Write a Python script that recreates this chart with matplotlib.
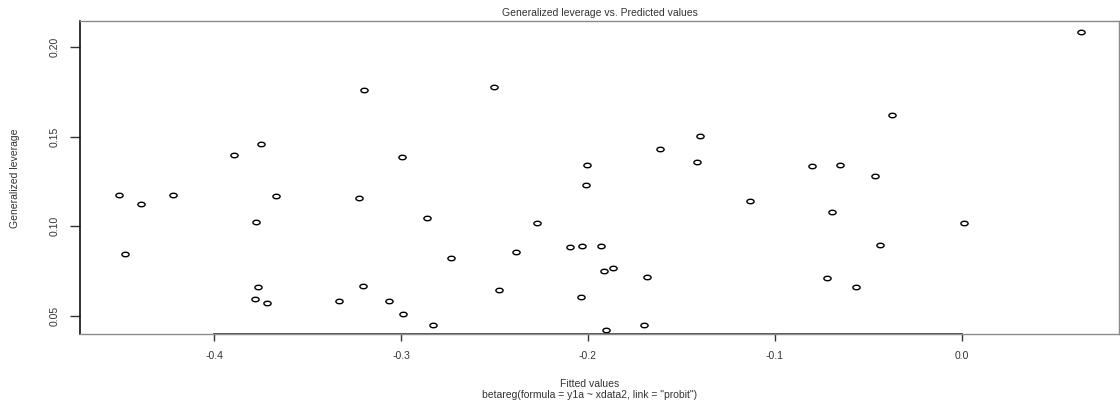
import numpy as np
import matplotlib
matplotlib.use("Agg")
import matplotlib.pyplot as plt
from matplotlib.path import Path
from matplotlib.transforms import Affine2D

# Fitted values and generalized leverage of the beta regression
fitted = [
    -0.4512, -0.4476, -0.4390, -0.4223, -0.3895, -0.3752, -0.3779, -0.3669,
    -0.3766, -0.3785, -0.3718, -0.3333, -0.3225, -0.3200, -0.3202, -0.3067,
    -0.2998, -0.2989, -0.2861, -0.2827, -0.2733, -0.2505, -0.2478, -0.2385,
    -0.2272, -0.2097, -0.2034, -0.2006, -0.2011, -0.2040, -0.1931, -0.1912,
    -0.1864, -0.1903, -0.1700, -0.1683, -0.1614, -0.1402, -0.1415, -0.1133,
    -0.0800, -0.0651, -0.0695, -0.0720, -0.0564, -0.0466, -0.0439, -0.0374,
    0.0015, 0.0636,
]
leverage = [
    0.1175, 0.0844, 0.1125, 0.1175, 0.1398, 0.1462, 0.1025, 0.1171,
    0.0663, 0.0596, 0.0573, 0.0581, 0.1156, 0.1762, 0.0667, 0.0581,
    0.1387, 0.0512, 0.1046, 0.0450, 0.0821, 0.1777, 0.0646, 0.0856,
    0.1017, 0.0883, 0.0890, 0.1342, 0.1231, 0.0604, 0.0890, 0.0750,
    0.0769, 0.0419, 0.0446, 0.0719, 0.1429, 0.1506, 0.1358, 0.1140,
    0.1337, 0.1340, 0.1081, 0.0713, 0.0663, 0.1281, 0.0894, 0.1621,
    0.1021, 0.2085,
]
x_ticks = [-0.4, -0.3, -0.2, -0.1, 0.0]
x_tick_labels = ["-0.4", "-0.3", "-0.2", "-0.1", "0.0"]
y_ticks = [0.05, 0.10, 0.15, 0.20]
y_tick_labels = ["0.05", "0.10", "0.15", "0.20"]

plt.rcParams["font.family"] = ["Liberation Sans", "DejaVu Sans"]

W, H, DPI = 1120, 403, 100
fig = plt.figure(figsize=(W / DPI, H / DPI), dpi=DPI)
ax = fig.add_axes([80 / W, 1 - 334 / H, (1119 - 80) / W, (334 - 21) / H])

# flattened open circle, like R's pch = 1 on a stretched device
oval = Path.unit_circle().transformed(Affine2D().scale(1.0, 0.62))
ax.plot(fitted, leverage, linestyle="none", marker=oval, markersize=5.2,
        markerfacecolor="none", markeredgecolor="black", markeredgewidth=1.0)

ax.set_xlim(-0.4719, 0.0842)
ax.set_ylim(0.0398, 0.2147)

ax.set_xticks(x_ticks)
ax.set_xticklabels(x_tick_labels, fontsize=7.5, color="#333333")
ax.set_yticks(y_ticks)
ax.set_yticklabels(y_tick_labels, fontsize=7.5, color="#333333",
                   rotation=90, va="center")
ax.tick_params(axis="x", length=5, width=1, color="#333333", pad=7)
ax.tick_params(axis="y", length=7, width=1, color="#333333", pad=8)

for side in ("top", "right", "bottom"):
    ax.spines[side].set_color("#8a8a8a")
    ax.spines[side].set_linewidth(1.0)
ax.spines["left"].set_color("#111111")
ax.spines["left"].set_linewidth(1.2)
# dark axis line spanning the outer x ticks
ax.plot([x_ticks[0], x_ticks[-1]], [0, 0], color="#333333", lw=1.2,
        transform=ax.get_xaxis_transform(), clip_on=False)

fig.text(599.5 / W, 1 - 13 / H, "Generalized leverage vs. Predicted values",
         ha="center", va="center", fontsize=7.5, color="#333333")
fig.text(15 / W, 1 - 178 / H, "Generalized leverage", rotation=90,
         ha="center", va="center", fontsize=7.5, color="#333333")
fig.text(590 / W, 1 - 384 / H, "Fitted values",
         ha="center", va="center", fontsize=7.5, color="#333333")
fig.text(590 / W, 1 - 395 / H, 'betareg(formula = y1a ~ xdata2, link = "probit")',
         ha="center", va="center", fontsize=7.5, color="#333333")

fig.savefig("out.png", dpi=DPI)
